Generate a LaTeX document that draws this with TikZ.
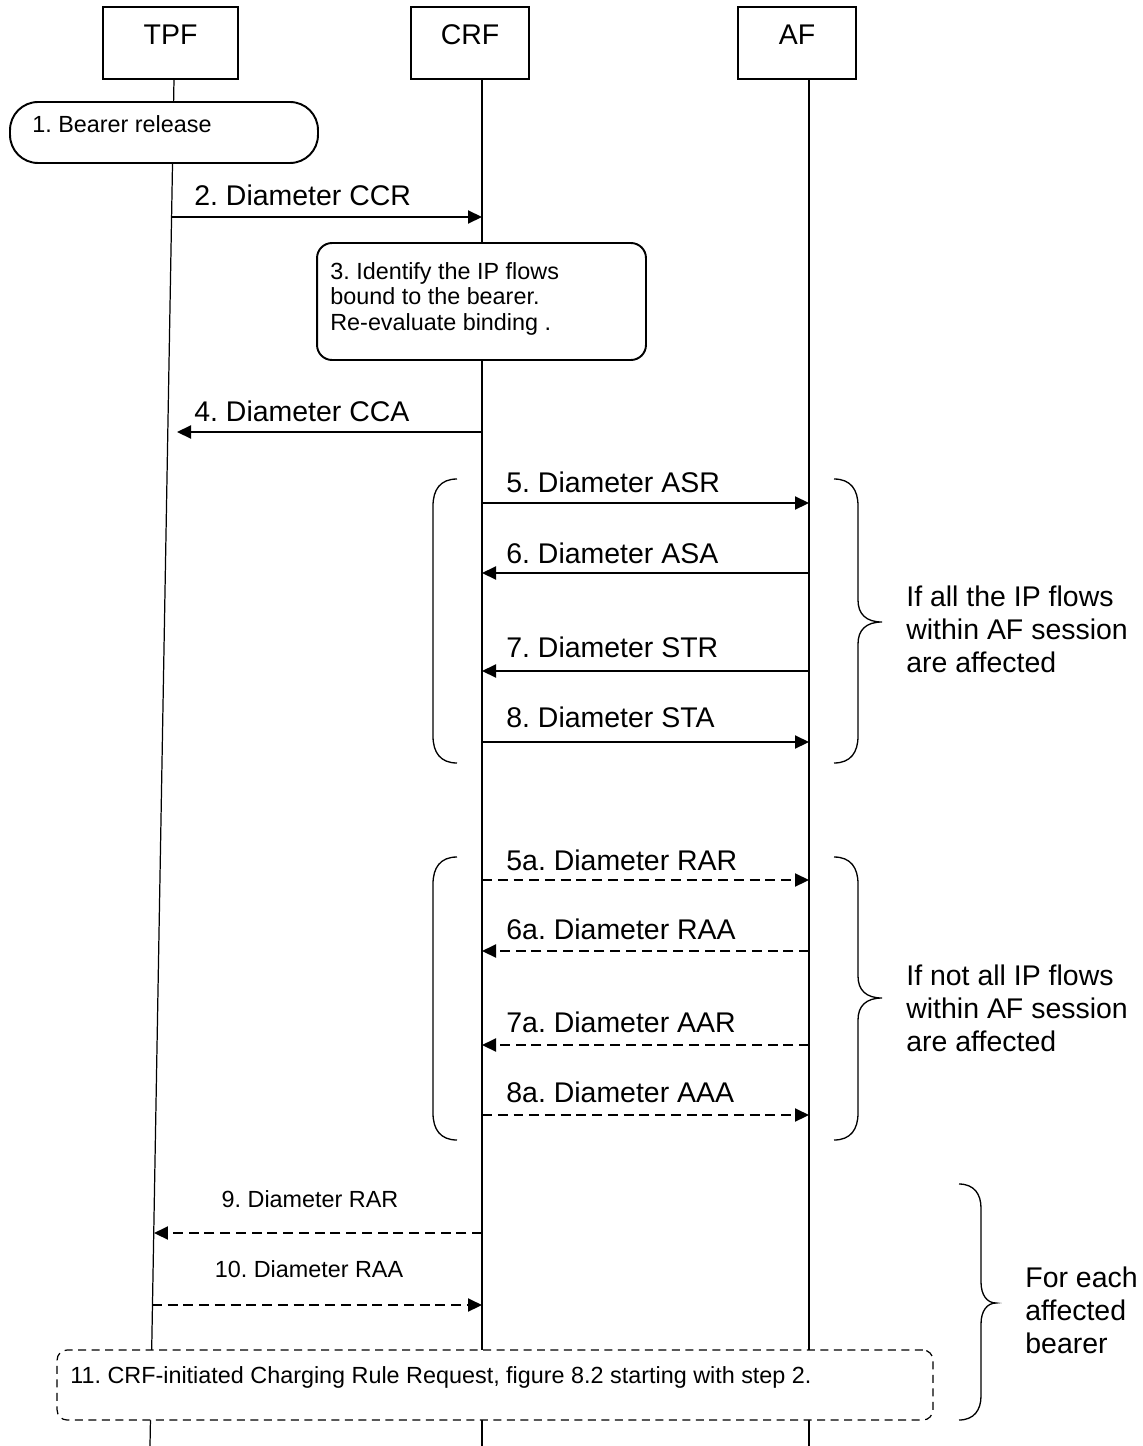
\documentclass[tikz,border=0pt]{standalone}
\usepackage{fontspec}
\setmainfont{Liberation Sans}
\usetikzlibrary{arrows.meta}
\frenchspacing

\begin{document}
\begin{tikzpicture}[x=0.02cm,y=-0.02cm,
  big/.style={font=\fontsize{16.2}{18.7}\selectfont},
  sml/.style={font=\fontsize{13.3}{14.5}\selectfont},
  ent/.style={big, draw, line width=1.1pt, fill=white, minimum height=1.44cm, minimum width=2.36cm, text height=0.41cm, text depth=0.33cm},
  act/.style={draw, line width=1.1pt, fill=white},
  life/.style={line width=0.7pt},
  msg/.style={line width=1.2pt, -{Triangle[length=2.8mm,width=2.6mm]}},
  dmsg/.style={msg, dash pattern=on 2mm off 1.15mm},
  lbl/.style={big, anchor=base west},
  brc/.style={line width=0.75pt}]
\tikzstyle{every node}+=[inner sep=0pt]
\useasboundingbox (0,0) rectangle (1142,1446);
\coordinate (tpfA) at (174,79);
\coordinate (tpfB) at (150,1446);
\coordinate (crfA) at (482,79);
\coordinate (crfB) at (482,1446);
\coordinate (afA) at (809,79);
\coordinate (afB) at (809,1446);
\draw [life] (tpfA) -- (tpfB);
\draw [life] (crfA) -- (crfB);
\draw [life] (afA) -- (afB);
\node [ent, minimum width=2.7cm] (tpf) at (170.5,43) {TPF};
\node [ent] (crf) at (470,43) {CRF};
\node [ent] (af) at (797,43) {AF};
\node [act, rounded corners=0.56cm, minimum width=6.16cm, minimum height=1.22cm] (bearer) at (164,132.5) {};
\node [sml, anchor=base west] (bearertxt) at (32,133) {1. Bearer release};
\node [act, rounded corners=0.3cm, minimum width=6.58cm, minimum height=2.34cm] (ident) at (481.5,301.5) {};
\node [sml, anchor=north west, align=left] (identtxt) at (330,262) {3. Identify the IP flows\\bound to the bearer.\\Re-evaluate binding .};
\node [draw, fill=white, line width=0.7pt, dash pattern=on 1.6mm off 1.1mm, rounded corners=0.2cm, minimum width=17.52cm, minimum height=1.4cm] (crq) at (495,1385) {};
\node [sml, anchor=base west] (crqtxt) at (70,1383) {11. CRF-initiated Charging Rule Request, figure 8.2 starting with step 2.};
\coordinate (t2) at (172,217);
\coordinate (t4) at (177,432);
\coordinate (t9) at (154,1233);
\coordinate (t10) at (152,1305);
\node [lbl] (ccr) at (194,206) {2. Diameter CCR};
\draw [msg] (t2) -- (crfA |- t2);
\node [lbl] (cca) at (194,421) {4. Diameter CCA};
\draw [msg] (crfA |- t4) -- (t4);
\node [lbl] (asr) at (506,492) {5. Diameter ASR};
\draw [msg] (crfA |- 0,503) -- (afA |- 0,503);
\node [lbl] (asa) at (506,563) {6. Diameter ASA};
\draw [msg] (afA |- 0,573) -- (crfA |- 0,573);
\node [lbl] (str) at (506,657) {7. Diameter STR};
\draw [msg] (afA |- 0,671) -- (crfA |- 0,671);
\node [lbl] (sta) at (506,727) {8. Diameter STA};
\draw [msg] (crfA |- 0,742) -- (afA |- 0,742);
\node [lbl] (rar) at (506,870) {5a. Diameter RAR};
\draw [dmsg] (crfA |- 0,880) -- (afA |- 0,880);
\node [lbl] (raa) at (506,939) {6a. Diameter RAA};
\draw [dmsg] (afA |- 0,951) -- (crfA |- 0,951);
\node [lbl] (aar) at (506,1032) {7a. Diameter AAR};
\draw [dmsg] (afA |- 0,1045) -- (crfA |- 0,1045);
\node [lbl] (aaa) at (506,1102) {8a. Diameter AAA};
\draw [dmsg] (crfA |- 0,1115) -- (afA |- 0,1115);
\node [sml, anchor=base] (rar2) at (310,1207) {9. Diameter RAR};
\draw [dmsg] (crfA |- t9) -- (t9);
\node [sml, anchor=base] (raa2) at (309,1277) {10. Diameter RAA};
\draw [dmsg] (t10) -- (crfA |- t10);
\draw [brc] (457,479) .. controls (440,479) and (433,490) .. (433,506) -- (433,736) .. controls (433,752) and (440,763) .. (457,763);
\draw [brc] (834,479) .. controls (851,479) and (858,490) .. (858,506) -- (858,600) .. controls (858,614) and (866,622) .. (882,622) .. controls (866,622) and (858,630) .. (858,644) -- (858,736) .. controls (858,752) and (851,763) .. (834,763);
\draw [brc] (457,857) .. controls (440,857) and (433,868) .. (433,884) -- (433,1113) .. controls (433,1129) and (440,1140) .. (457,1140);
\draw [brc] (834,857) .. controls (851,857) and (858,868) .. (858,884) -- (858,976) .. controls (858,990) and (866,998) .. (882,998) .. controls (866,998) and (858,1006) .. (858,1020) -- (858,1113) .. controls (858,1129) and (851,1140) .. (834,1140);
\draw [brc] (959,1184) .. controls (974,1184) and (981,1194) .. (981,1208) -- (981,1282) .. controls (981,1295) and (987,1303) .. (996,1303) .. controls (987,1303) and (981,1311) .. (981,1324) -- (981,1396) .. controls (981,1410) and (974,1420) .. (959,1420);
\node [big, anchor=north west, align=left] (allflows) at (906,586) {If all the IP flows\\within AF session\\are affected};
\node [big, anchor=north west, align=left] (notall) at (906,965) {If not all IP flows\\within AF session\\are affected};
\node [big, anchor=north west, align=left] (each) at (1025,1267) {For each\\affected\\bearer};
\end{tikzpicture}
\end{document}
